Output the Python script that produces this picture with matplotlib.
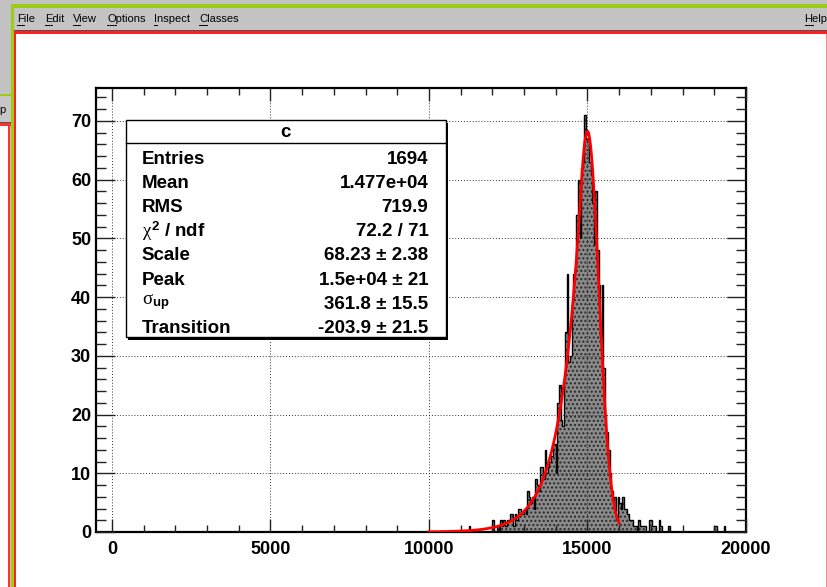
import numpy as np
import matplotlib
matplotlib.use('Agg')
import matplotlib.pyplot as plt
from matplotlib.patches import Rectangle
from matplotlib.ticker import MultipleLocator

# histogram contents, 50-wide bins starting at 10000
bin_lo = 10000
bin_width = 50
counts = [
    # 10000 - 10950
    0, 0, 0, 0, 0, 0, 0, 0, 0, 0, 0, 0, 0, 0, 0, 0, 0, 0, 0, 0,
    # 11000 - 11950
    0, 0, 0, 0, 0, 1, 0, 0, 0, 0, 0, 0, 0, 0, 0, 0, 0, 0, 0, 0,
    # 12000 - 12950
    2, 0, 0, 1, 0, 2, 1, 2, 1, 2, 2, 3, 3, 1, 3, 2, 4, 4, 3, 3,
    # 13000 - 13950
    4, 3, 7, 6, 5, 6, 4, 9, 8, 7, 11, 11, 9, 14, 10, 11, 12, 13, 15, 15,
    # 14000 - 14950
    10, 22, 25, 19, 18, 26, 34, 44, 29, 30, 39, 44, 45, 54, 60, 50, 62, 63, 71, 67,
    # 15000 - 15950
    67, 63, 61, 56, 49, 58, 48, 42, 33, 42, 28, 20, 17, 14, 10, 7, 5, 6, 2, 6,
    # 16000 - 16950
    5, 4, 6, 4, 4, 3, 2, 2, 2, 1, 1, 0, 2, 1, 1, 1, 1, 0, 0, 2,
    # 17000 - 17950
    2, 1, 1, 0, 0, 2, 1, 0, 0, 0, 0, 1, 0, 0, 0, 0, 0, 0, 0, 0,
    # 18000 - 18950
    0, 0, 0, 0, 0, 0, 0, 0, 0, 0, 0, 0, 0, 0, 0, 0, 0, 0, 0, 0,
    # 19000 - 19450
    1, 1, 0, 0, 0, 0, 1, 0, 0, 0,
]

# fit result: gaussian above the transition point, exponential tail below
scale = 68.23
peak = 1.5e4
sigma_up = 361.8
transition = -203.9
fit_range = (10000, 16000)

stats_title = 'c'
stats_labels = ['Entries', 'Mean', 'RMS', r'$\chi^{2}$ / ndf', 'Scale', 'Peak',
                r'$\sigma_{\mathrm{up}}$', 'Transition']
stats_values = ['1694', '1.477e+04', '719.9', '72.2 / 71', '68.23 \u00b1 2.38',
                '1.5e+04 \u00b1 21', '361.8 \u00b1 15.5', '-203.9 \u00b1 21.5']

menu_items = ['File', 'Edit', 'View', 'Options', 'Inspect', 'Classes']
menu_x = [17, 45, 73, 107, 154, 199]


def fit_shape(x):
    t = (x - peak) / sigma_up
    a = transition / sigma_up
    gauss = np.exp(-0.5 * t ** 2)
    tail = np.exp(0.5 * a ** 2 - a * t)
    return scale * np.where(t >= a, gauss, tail)


plt.rcParams['font.family'] = ['Liberation Sans', 'DejaVu Sans']
plt.rcParams['mathtext.fontset'] = 'custom'
plt.rcParams['mathtext.rm'] = 'Liberation Sans:bold'
plt.rcParams['mathtext.it'] = 'Liberation Serif'
plt.rcParams['mathtext.bf'] = 'Liberation Sans:bold'
plt.rcParams['hatch.linewidth'] = 1.0

W, H = 827, 587
fig = plt.figure(figsize=(W / 100, H / 100), dpi=100)

# window frame drawn in pixel coordinates
bg = fig.add_axes([0, 0, 1, 1], zorder=0)
bg.set_xlim(0, W)
bg.set_ylim(H, 0)
bg.axis('off')


def box(x0, y0, x1, y1, color):
    bg.add_patch(Rectangle((x0, y0), x1 - x0, y1 - y0, facecolor=color,
                           edgecolor='none'))


green = '#9ccc14'
box(0, 0, W, H, '#c2c2c2')
# window behind, on the left
box(0, 94, 11, 96, green)
box(0, 96, 11, 122, '#c6c6c6')
box(0, 122, 11, 123, '#555555')
box(0, 123, 11, 126, '#ff3030')
box(0, 126, 8, H, 'white')
box(8, 126, 10, H, '#ff3030')
bg.text(-0.5, 110, 'p', fontsize=8, ha='left', va='center')

# main window
box(11, 4, W, 7.5, green)
box(11, 4, 14, H, green)
box(14, 7.5, W, 30, '#c4c4c4')
box(14, 30, W, 31, '#505050')
box(14, 31, W, 33.5, '#ff2020')
box(14, 31, 16, H, '#ff2020')
box(16, 33.5, W, H, 'white')
box(825.5, 33.5, W, H, '#f09090')

renderer = fig.canvas.get_renderer()
for x, label in list(zip(menu_x, menu_items)) + [(804.5, 'Help')]:
    bg.text(x, 19.5, label, fontsize=8, ha='left', va='center')
    first = bg.text(x, 19.5, label[0], fontsize=8, ha='left', va='center')
    w = first.get_window_extent(renderer).width
    first.remove()
    bg.plot([x, x + w], [25.2, 25.2], color='black', lw=0.7)

# histogram pad
ax = fig.add_axes([96 / W, 1 - 532 / H, (746 - 96) / W, (532 - 88) / H], zorder=1)
ax.set_facecolor('white')

edges = bin_lo + bin_width * np.arange(len(counts) + 1)
ax.stairs(counts, edges, fill=True, facecolor='#8a8a8a', edgecolor='#2a2a2a',
          hatch='....', lw=0, zorder=1)
ax.stairs(counts, edges, color='black', lw=1.0, zorder=1.5)

xs = np.linspace(fit_range[0], fit_range[1], 1500)
ax.plot(xs, fit_shape(xs), color='red', lw=2.0, zorder=3)

ax.set_xlim(-500, 20000)
ax.set_ylim(0, 75.6)
ax.xaxis.set_major_locator(MultipleLocator(5000))
ax.xaxis.set_minor_locator(MultipleLocator(1000))
ax.yaxis.set_major_locator(MultipleLocator(10))
ax.yaxis.set_minor_locator(MultipleLocator(2))
ax.tick_params(which='both', direction='in', top=True, right=True, width=1.0,
               color='#222222', labelsize=13)
ax.tick_params(axis='x', which='major', length=9.4, pad=6.5)
ax.tick_params(axis='x', which='minor', length=4.7)
ax.tick_params(axis='y', which='major', length=14, pad=3.5)
ax.tick_params(axis='y', which='minor', length=7)
for lab in ax.get_xticklabels() + ax.get_yticklabels():
    lab.set_fontweight('bold')
for sp in ax.spines.values():
    sp.set_linewidth(1.6)
ax.set_axisbelow(False)
ax.grid(True, which='major', linestyle=(0, (1, 2)), color='#333333', lw=0.7)

# statistics box
ov = fig.add_axes([0, 0, 1, 1], zorder=2)
ov.set_xlim(0, W)
ov.set_ylim(H, 0)
ov.axis('off')
ov.patch.set_alpha(0)

bx0, by0, bx1, by1 = 125.7, 120, 445.7, 337.3
ov.add_patch(Rectangle((bx0 + 2.5, by0 + 2.5), bx1 - bx0, by1 - by0,
                       facecolor='black', edgecolor='none'))
ov.add_patch(Rectangle((bx0, by0), bx1 - bx0, by1 - by0, facecolor='white',
                       edgecolor='black', lw=1.0))
ov.plot([bx0, bx1], [143.3, 143.3], color='black', lw=1.0)
ov.text((bx0 + bx1) / 2, 132.5, stats_title, fontsize=13.5, fontweight='bold',
        ha='center', va='center')
row_y = 159.3 + 24.15 * np.arange(len(stats_labels))
for y, lab, val in zip(row_y, stats_labels, stats_values):
    dy = -3 if lab.startswith(r'$\sigma') else 0
    ov.text(141.7, y + dy, lab, fontsize=13.5, fontweight='bold', ha='left',
            va='center')
    ov.text(428.5, y, val, fontsize=13.5, fontweight='bold', ha='right', va='center')

fig.savefig('out.png', dpi=100)
